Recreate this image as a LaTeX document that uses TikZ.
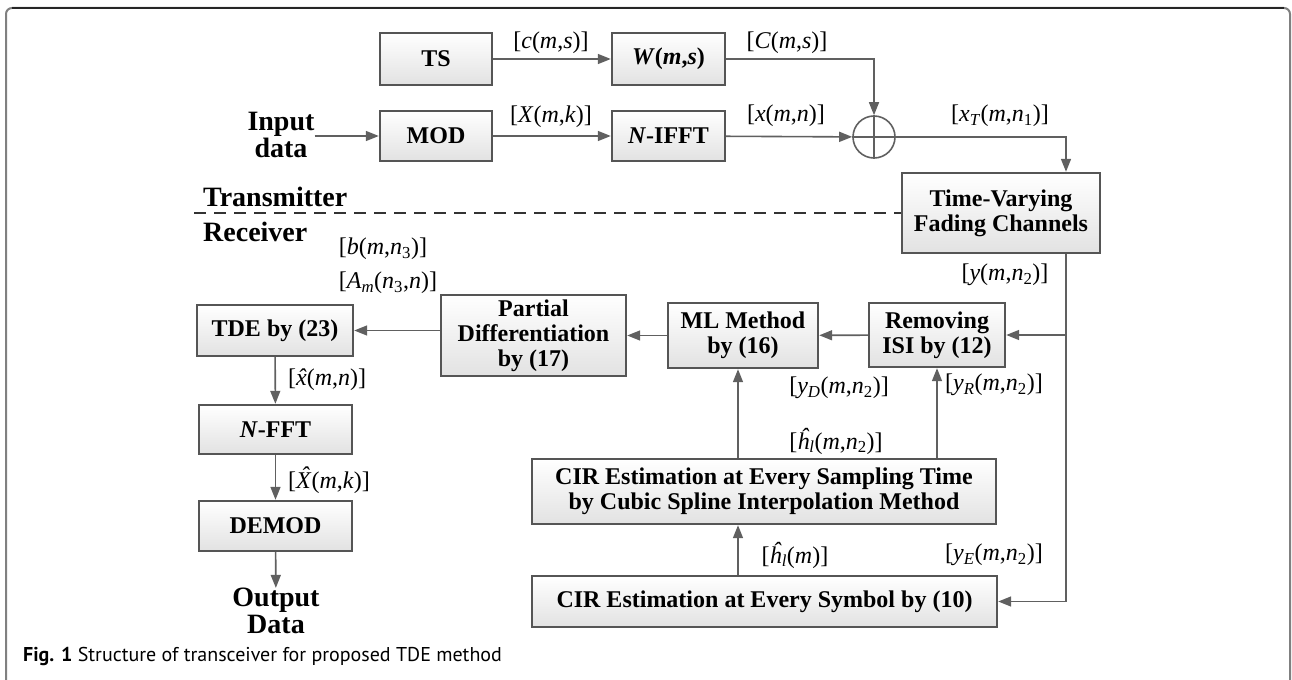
\documentclass[tikz,border=0pt]{standalone}
\usepackage{fontspec}
\setmainfont{Liberation Serif}
\newfontfamily\capfont{PT Sans}
\usetikzlibrary{arrows.meta}
\definecolor{boxc}{HTML}{555555}
\definecolor{linec}{HTML}{606060}
\definecolor{boxbot}{HTML}{E2E2E2}
\definecolor{framec}{HTML}{808080}
\newcommand{\vv}[1]{\textit{#1}}
\newcommand{\hatof}[1]{\textit{\accent"02C6 #1}}
\begin{document}
\begin{tikzpicture}[x=1bp,y=-1bp,
  >={Triangle[length=13bp,width=10bp]},
  blk/.style={draw=boxc, line width=2.4bp, top color=white, bottom color=boxbot,
    font=\fontsize{24bp}{25bp}\selectfont\bfseries, align=center, inner sep=0pt},
  lbl/.style={font=\fontsize{24bp}{26bp}\selectfont, inner sep=0pt},
  side/.style={font=\fontsize{28bp}{27bp}\selectfont\bfseries, align=center, inner sep=0pt},
  conn/.style={draw=linec, line width=1.6bp, ->},
  sumc/.style={circle, draw=linec, line width=1.6bp, fill=white, minimum size=42bp, inner sep=0pt}]
\useasboundingbox (0,0) rectangle (1292,680);
% frame
\draw[framec, line width=2bp, rounded corners=6bp] (6,680) -- (6,8) -- (1290,8) -- (1290,680);
\draw[black!85, line width=1.6bp] (12,8) -- (1284,8);
% blocks
\node[blk, minimum width=112bp, minimum height=52bp] (ts) at (436,59) {TS};
\node[blk, minimum width=113bp, minimum height=52bp] (w) at (668.5,59) {\textit{W}(\textit{m},\textit{s})};
\node[blk, minimum width=112bp, minimum height=50bp] (mod) at (436,136) {MOD};
\node[blk, minimum width=113bp, minimum height=50bp] (ifft) at (668.5,136) {\textit{N}-IFFT};
\node[sumc] (sum) at (874,137) {};
\draw[linec, line width=1.4bp] (sum.north) -- (sum.south) (sum.west) -- (sum.east);
\node[blk, minimum width=198bp, minimum height=80bp] (tvc) at (1001,213) {Time-Varying\\Fading Channels};
\node[blk, minimum width=136bp, minimum height=64bp] (rem) at (937,335) {Removing\\ISI by (12)};
\node[blk, minimum width=150bp, minimum height=65bp] (ml) at (743,335.5) {ML Method\\by (16)};
\node[blk, minimum width=185bp, minimum height=81bp] (pd) at (533.5,335.5) {Partial\\Differentiation\\by (17)};
\node[blk, minimum width=156bp, minimum height=51bp] (tde) at (275,330.5) {TDE by (23)};
\node[blk, minimum width=153bp, minimum height=49bp] (fft) at (275.5,429.5) {\textit{N}-FFT};
\node[blk, minimum width=153bp, minimum height=50bp] (demod) at (275.5,526) {DEMOD};
\node[blk, minimum width=464bp, minimum height=65bp] (cs) at (764,491.5) {CIR Estimation at Every Sampling Time\\by Cubic Spline Interpolation Method};
\node[blk, minimum width=465bp, minimum height=51bp] (cy) at (764.5,601.5) {CIR Estimation at Every Symbol by (10)};
% side texts
\node[side] (in) at (281,135) {Input\\data};
\node[side] (out) at (276,611) {Output\\Data};
\node[side, anchor=west] (tx) at (203,197) {Transmitter};
\node[side, anchor=west] (rx) at (203,232) {Receiver};
% helper coordinates
\coordinate (vx) at (1066,0);
\coordinate (ax) at (738,0);
\coordinate (dl) at (194,213);
% dashed separator
\draw[black!80, line width=1.8bp, dash pattern=on 12bp off 8bp] (dl) -- (tvc.west);
% connectors
\draw[conn] (ts) -- (w);
\draw[conn] (mod) -- (ifft);
\draw[conn] (in.east |- mod) -- (mod);
\draw[conn] (w.east) -| (sum.north);
\draw[conn] (ifft) -- (sum);
\draw[conn] (sum.east) -| (vx |- tvc.north);
\draw[conn] (vx |- tvc.south) |- (cy.east);
\draw[conn] (vx |- rem.east) -- (rem.east);
\draw[conn] (rem) -- (ml);
\draw[conn] (ml) -- (pd);
\draw[conn] (pd.west |- tde.east) -- (tde.east);
\draw[conn] (ax |- cs.north) -- (ax |- ml.south);
\draw[conn] (cs.north -| rem) -- (rem.south);
\draw[conn] (ax |- cy.north) -- (ax |- cs.south);
\draw[conn] (tde) -- (fft);
\draw[conn] (fft) -- (demod);
\draw[conn] (demod) -- (out);
% labels
\node[lbl] (lc) at (551,43) {[\vv{c}(\vv{m},\vv{s})]};
\node[lbl] (lC) at (787,43) {[\vv{C}(\vv{m},\vv{s})]};
\node[lbl] (lX) at (551,117) {[\vv{X}(\vv{m},\vv{k})]};
\node[lbl] (lx) at (786,116) {[\vv{x}(\vv{m},\vv{n})]};
\node[lbl] (lxT) at (1000,116) {[\vv{x}\textsubscript{\vv{T}}(\vv{m},\vv{n}\textsubscript{1})]};
\node[lbl] (ly) at (1005,275) {[\vv{y}(\vv{m},\vv{n}\textsubscript{2})]};
\node[lbl] (lb) at (383,249) {[\vv{b}(\vv{m},\vv{n}\textsubscript{3})]};
\node[lbl] (lA) at (388,283) {[\vv{A}\textsubscript{\vv{m}}(\vv{n}\textsubscript{3},\vv{n})]};
\node[lbl] (lyD) at (839,388) {[\vv{y}\textsubscript{\vv{D}}(\vv{m},\vv{n}\textsubscript{2})]};
\node[lbl, anchor=west] (lyR) at (945,385) {[\vv{y}\textsubscript{\vv{R}}(\vv{m},\vv{n}\textsubscript{2})]};
\node[lbl] (lh1) at (836,441) {[\vv{\^{h}}\textsubscript{\vv{l}}(\vv{m},\vv{n}\textsubscript{2})]};
\node[lbl] (lh2) at (795,555) {[\vv{\^{h}}\textsubscript{\vv{l}}(\vv{m})]};
\node[lbl, anchor=west] (lyE) at (945,555) {[\vv{y}\textsubscript{\vv{E}}(\vv{m},\vv{n}\textsubscript{2})]};
\node[lbl, anchor=west] (lxh) at (288,380) {[\hatof{x}(\vv{m},\vv{n})]};
\node[lbl, anchor=west] (lXh) at (288,480) {[\hatof{X}(\vv{m},\vv{k})]};
% caption
\node[anchor=west, inner sep=0pt, font=\capfont\fontsize{20bp}{22bp}\selectfont] (cap) at (23,656) {\textbf{Fig. 1} Structure of transceiver for proposed TDE method};
\end{tikzpicture}
\end{document}
